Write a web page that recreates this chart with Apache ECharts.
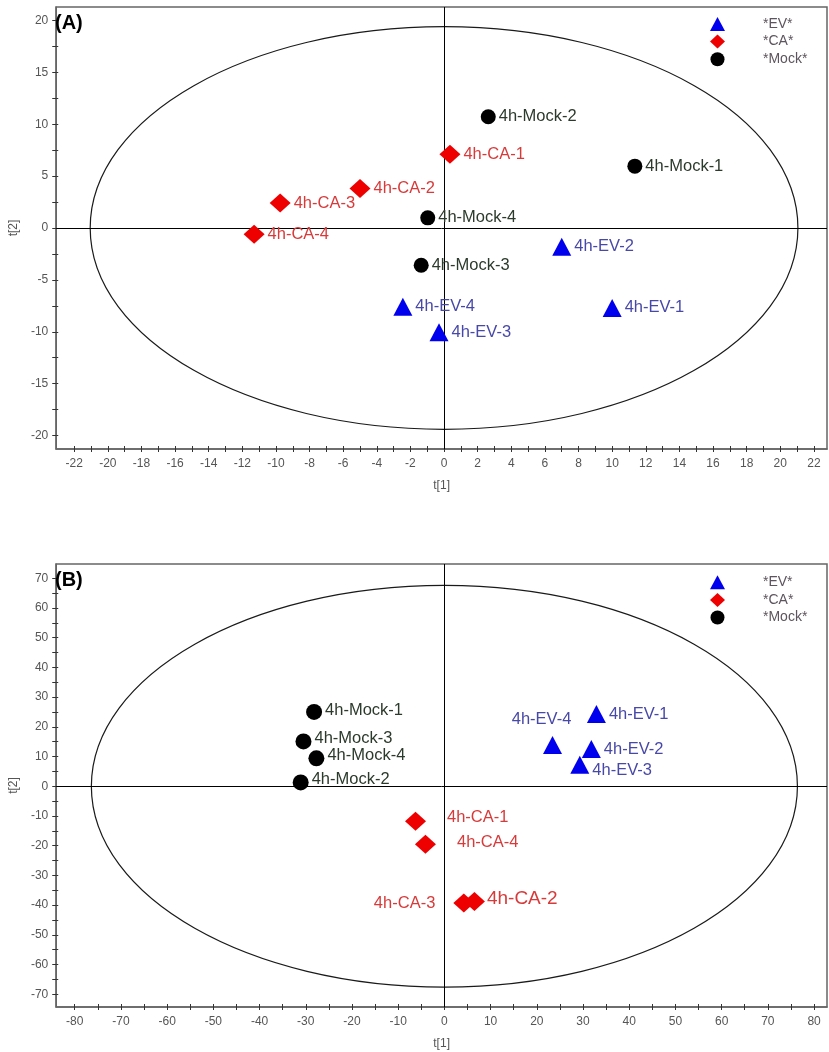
<!DOCTYPE html>
<html>
<head>
<meta charset="utf-8">
<script src="https://cdn.jsdelivr.net/npm/echarts@6/dist/echarts.min.js"></script>
<style>
html,body{margin:0;padding:0;background:#fff;}
#chart{width:829px;height:1052px;}
</style>
</head>
<body>
<div id="chart"></div>
<script>
// ---------- Panel A: scores t[1], t[2] ----------
const evNamesA = ['4h-EV-1', '4h-EV-2', '4h-EV-3', '4h-EV-4'];
const evT1A = [10.0, 7.0, -0.3, -2.45];
const evT2A = [-7.7, -1.8, -10.05, -7.6];
const caNamesA = ['4h-CA-1', '4h-CA-2', '4h-CA-3', '4h-CA-4'];
const caT1A = [0.35, -5.0, -9.75, -11.3];
const caT2A = [7.1, 3.8, 2.4, -0.6];
const mockNamesA = ['4h-Mock-1', '4h-Mock-2', '4h-Mock-3', '4h-Mock-4'];
const mockT1A = [11.35, 2.63, -1.36, -0.97];
const mockT2A = [5.96, 10.72, -3.59, 0.98];
const ellipseA = [21.05, 19.4];   // semi-axes (t[1], t[2])

// ---------- Panel B ----------
const evNamesB = ['4h-EV-1', '4h-EV-2', '4h-EV-3', '4h-EV-4'];
const evT1B = [32.9, 31.8, 29.3, 23.4];
const evT2B = [24.3, 12.5, 7.2, 13.9];
const caNamesB = ['4h-CA-1', '4h-CA-2', '4h-CA-3', '4h-CA-4'];
const caT1B = [-6.25, 6.5, 4.2, -4.1];
const caT2B = [-11.8, -38.8, -39.3, -19.5];
const mockNamesB = ['4h-Mock-1', '4h-Mock-2', '4h-Mock-3', '4h-Mock-4'];
const mockT1B = [-28.2, -31.1, -30.5, -27.7];
const mockT2B = [25.0, 1.3, 15.1, 9.4];
const ellipseB = [76.4, 67.6];

// ---------- legend / groups ----------
const groupNames = ['*EV*', '*CA*', '*Mock*'];

// ---------- ticks ----------
const xLabelsA = [-22, -20, -18, -16, -14, -12, -10, -8, -6, -4, -2, 0, 2, 4, 6, 8, 10, 12, 14, 16, 18, 20, 22];
const xTicksA = [-22, -21, -20, -19, -18, -17, -16, -15, -14, -13, -12, -11, -10, -9, -8, -7, -6, -5, -4, -3, -2, -1, 0, 1, 2, 3, 4, 5, 6, 7, 8, 9, 10, 11, 12, 13, 14, 15, 16, 17, 18, 19, 20, 21, 22];
const yLabelsA = [-20, -15, -10, -5, 0, 5, 10, 15, 20];
const yTicksA = [-20, -17.5, -15, -12.5, -10, -7.5, -5, -2.5, 0, 2.5, 5, 7.5, 10, 12.5, 15, 17.5, 20];
const xLabelsB = [-80, -70, -60, -50, -40, -30, -20, -10, 0, 10, 20, 30, 40, 50, 60, 70, 80];
const xTicksB = [-80, -75, -70, -65, -60, -55, -50, -45, -40, -35, -30, -25, -20, -15, -10, -5, 0, 5, 10, 15, 20, 25, 30, 35, 40, 45, 50, 55, 60, 65, 70, 75, 80];
const yLabelsB = [-70, -60, -50, -40, -30, -20, -10, 0, 10, 20, 30, 40, 50, 60, 70];
const yTicksB = [-70, -65, -60, -55, -50, -45, -40, -35, -30, -25, -20, -15, -10, -5, 0, 5, 10, 15, 20, 25, 30, 35, 40, 45, 50, 55, 60, 65, 70];

// ---------- styling ----------
const FONT = "'Liberation Sans', Arial, sans-serif";
const NARROW = "'Liberation Sans Narrow', 'Liberation Sans', Arial, sans-serif";
const FRAME = '#666';
const colors = {
  ev: { mark: '#0000ee', text: '#4848a8', symbol: 'triangle', size: [19, 18] },
  ca: { mark: '#ee0000', text: '#d83a3a', symbol: 'diamond', size: [21, 19] },
  mock: { mark: '#000000', text: '#2c3a2c', symbol: 'circle', size: 15 }
};

// label placement tweaks (panel B)
const placeB = {
  '4h-EV-3': { offset: [0, 6] },
  '4h-EV-4': { position: 'top', distance: 8, offset: [-11, 0] },
  '4h-CA-1': { distance: 21, offset: [0, -4] },
  '4h-CA-4': { distance: 21, offset: [0, -2] },
  '4h-CA-3': { position: 'left', distance: 18 },
  '4h-CA-2': { distance: 2, fontSize: 19, offset: [0, -3] },
  '4h-Mock-1': { offset: [0, -2] },
  '4h-Mock-2': { offset: [0, -3] },
  '4h-Mock-3': { offset: [0, -3] },
  '4h-Mock-4': { offset: [0, -3] }
};

function points(names, t1, t2, place) {
  return names.map((n, i) => ({ name: n, value: [t1[i], t2[i]], label: (place && place[n]) || {} }));
}

function scatter(name, idx, cfg, data, symSize) {
  return {
    type: 'scatter', name: name, xAxisIndex: idx * 2, yAxisIndex: idx * 2,
    symbol: cfg.symbol, symbolSize: symSize || cfg.size,
    itemStyle: { color: cfg.mark, opacity: 1 },
    label: { show: true, formatter: '{b}', position: 'right', distance: 3, color: cfg.text, fontSize: 16.5, fontFamily: FONT },
    emphasis: { disabled: true },
    data: data, z: 5
  };
}

function ellipseSeries(idx, semi) {
  return {
    type: 'custom', xAxisIndex: idx * 2, yAxisIndex: idx * 2, silent: true, z: 2,
    data: [[0, 0, semi[0], semi[1]]],
    renderItem: function (params, api) {
      const c = api.coord([api.value(0), api.value(1)]);
      const s = api.size([api.value(2), api.value(3)]);
      return { type: 'ellipse', shape: { cx: c[0], cy: c[1], rx: s[0], ry: s[1] },
        style: { fill: null, stroke: '#1a1a1a', lineWidth: 1.2 } };
    }
  };
}

function crossSeries(idx) {
  return {
    type: 'scatter', xAxisIndex: idx * 2, yAxisIndex: idx * 2, data: [], silent: true, z: 3,
    markLine: { silent: true, symbol: ['none', 'none'], animation: false, label: { show: false },
      lineStyle: { color: '#000', width: 1, type: 'solid' },
      data: [{ xAxis: 0 }, { yAxis: 0 }] }
  };
}

function xAxes(grid, min, max, ticks, labels) {
  const base = { type: 'value', gridIndex: grid, min: min, max: max, position: 'bottom', splitLine: { show: false } };
  return [
    Object.assign({}, base, {
      axisLine: { show: true, onZero: false, lineStyle: { color: FRAME, width: 1.5 } },
      axisTick: { show: true, length: 3, customValues: ticks, lineStyle: { color: '#333' } },
      axisLabel: { customValues: labels, color: '#555', fontSize: 12, fontFamily: NARROW, margin: 9 },
      name: 't[1]', nameLocation: 'middle', nameGap: 31,
      nameTextStyle: { color: '#555', fontSize: 12, fontFamily: NARROW }
    }),
    Object.assign({}, base, {
      axisLine: { show: false, onZero: false },
      axisTick: { show: true, inside: true, length: 3, customValues: ticks, lineStyle: { color: '#333' } },
      axisLabel: { show: false }
    })
  ];
}

function yAxes(grid, min, max, ticks, labels) {
  const base = { type: 'value', gridIndex: grid, min: min, max: max, position: 'left', splitLine: { show: false } };
  return [
    Object.assign({}, base, {
      axisLine: { show: true, onZero: false, lineStyle: { color: FRAME, width: 1.5 } },
      axisTick: { show: true, length: 4, customValues: ticks, lineStyle: { color: '#333' } },
      axisLabel: { customValues: labels, color: '#555', fontSize: 12, fontFamily: NARROW, margin: 8 },
      name: 't[2]', nameLocation: 'middle', nameGap: 29,
      nameTextStyle: { color: '#555', fontSize: 12, fontFamily: NARROW }
    }),
    Object.assign({}, base, {
      axisLine: { show: false, onZero: false },
      axisTick: { show: true, inside: true, length: 2, customValues: ticks, lineStyle: { color: '#333' } },
      axisLabel: { show: false }
    })
  ];
}

function legend(top) {
  return {
    orient: 'vertical', left: 710, top: top, padding: 0, itemGap: 3.6,
    itemWidth: 15, itemHeight: 14, selectedMode: false,
    data: groupNames,
    formatter: function (n) { return '{t|' + n + '}'; },
    textStyle: { rich: { t: { padding: [0, 0, 0, 33], color: '#5d555d', fontSize: 14, fontFamily: FONT } } }
  };
}

const chart = echarts.init(document.getElementById('chart'), null, { renderer: 'canvas' });
chart.setOption({
  animation: false,
  backgroundColor: '#fff',
  title: [
    { text: '(A)', left: 55, top: 13, padding: 0, textStyle: { fontSize: 20, fontWeight: 'bold', color: '#000', fontFamily: FONT } },
    { text: '(B)', left: 55, top: 570, padding: 0, textStyle: { fontSize: 20, fontWeight: 'bold', color: '#000', fontFamily: FONT } }
  ],
  legend: [legend(17), legend(575.3)],
  grid: [
    { left: 54, top: 7, width: 773, height: 442, show: true, borderColor: FRAME, borderWidth: 1.5, containLabel: false },
    { left: 53, top: 564, width: 774, height: 443, show: true, borderColor: FRAME, borderWidth: 1.5, containLabel: false }
  ],
  xAxis: xAxes(0, -23.07, 22.78, xTicksA, xLabelsA).concat(xAxes(1, -84.0, 82.8, xTicksB, xLabelsB)),
  yAxis: yAxes(0, -21.3, 21.3, yTicksA, yLabelsA).concat(yAxes(1, -74.3, 74.8, yTicksB, yLabelsB)),
  series: [
    ellipseSeries(0, ellipseA),
    crossSeries(0),
    scatter(groupNames[0], 0, colors.ev, points(evNamesA, evT1A, evT2A)),
    scatter(groupNames[1], 0, colors.ca, points(caNamesA, caT1A, caT2A)),
    scatter(groupNames[2], 0, colors.mock, points(mockNamesA, mockT1A, mockT2A)),
    ellipseSeries(1, ellipseB),
    crossSeries(1),
    scatter(groupNames[0], 1, colors.ev, points(evNamesB, evT1B, evT2B, placeB)),
    scatter(groupNames[1], 1, colors.ca, points(caNamesB, caT1B, caT2B, placeB)),
    scatter(groupNames[2], 1, colors.mock, points(mockNamesB, mockT1B, mockT2B, placeB), 16)
  ]
});
</script>
</body>
</html>
